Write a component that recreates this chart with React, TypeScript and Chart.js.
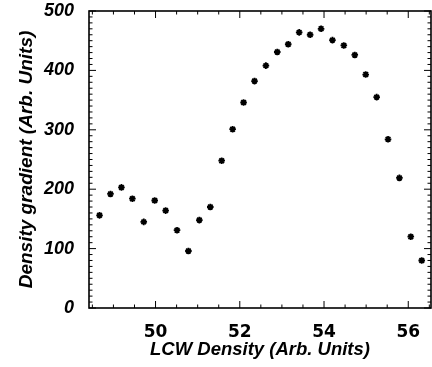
import React, { useEffect, useRef } from "react";
import { Chart, registerables } from "chart.js";

Chart.register(...registerables);

const lcwDensity = [
  48.67, 48.93, 49.19, 49.45, 49.72, 49.98, 50.24, 50.51, 50.78, 51.04,
  51.3, 51.57, 51.83, 52.09, 52.35, 52.62, 52.89, 53.15, 53.41, 53.67,
  53.93, 54.2, 54.47, 54.73, 54.99, 55.25, 55.52, 55.79, 56.06, 56.32,
];
const densityGradient = [
  156, 192, 203, 184, 145, 181, 164, 131, 96, 148,
  170, 248, 301, 346, 382, 408, 431, 444, 464, 460,
  470, 451, 442, 426, 393, 355, 284, 219, 120, 80,
];
const xTickLabels = [50, 52, 54, 56];
const yTickLabels = [0, 100, 200, 300, 400, 500];

const framePlugin = {
  id: "frameTicks",
  afterDraw(chart: any) {
    const { ctx, chartArea } = chart;
    const { left, right, top, bottom } = chartArea;
    const xs = chart.scales.x;
    const ys = chart.scales.y;
    ctx.save();
    ctx.strokeStyle = "#000";
    ctx.lineWidth = 1;
    ctx.beginPath();
    for (let v = 48.5; v <= xs.max + 1e-9; v += 0.5) {
      if (v < xs.min) continue;
      const px = xs.getPixelForValue(v);
      const len = Math.abs(v % 2) < 1e-6 ? 7 : 3.5;
      ctx.moveTo(px, bottom);
      ctx.lineTo(px, bottom - len);
      ctx.moveTo(px, top);
      ctx.lineTo(px, top + len);
    }
    for (let v = 0; v <= 500; v += 10) {
      const py = ys.getPixelForValue(v);
      const len = v % 100 === 0 ? 7 : 3.5;
      ctx.moveTo(left, py);
      ctx.lineTo(left + len, py);
      ctx.moveTo(right, py);
      ctx.lineTo(right - len, py);
    }
    ctx.stroke();
    ctx.lineWidth = 1.6;
    ctx.strokeRect(left, top, right - left, bottom - top);
    ctx.restore();
  },
};

export default function App() {
  const ref = useRef<HTMLCanvasElement>(null);
  useEffect(() => {
    document.body.style.margin = "0";
    const chart = new Chart(ref.current as HTMLCanvasElement, {
      type: "scatter",
      data: {
        datasets: [
          {
            data: lcwDensity.map((x, i) => ({ x, y: densityGradient[i] })),
            pointStyle: "star",
            pointRadius: 3.3,
            borderWidth: 1.8,
            borderColor: "#000",
            backgroundColor: "#000",
          },
        ],
      },
      options: {
        animation: false,
        responsive: false,
        layout: { autoPadding: false, padding: { top: 11, right: 1, left: 0, bottom: 0 } },
        plugins: { legend: { display: false }, tooltip: { enabled: false } },
        scales: {
          x: {
            type: "linear",
            min: 48.42,
            max: 56.54,
            grid: { display: false },
            border: { display: false },
            afterBuildTicks: (s: any) => {
              s.ticks = xTickLabels.map((v) => ({ value: v }));
            },
            afterFit: (s: any) => {
              s.height = 59;
              s.paddingLeft = 0;
              s.paddingRight = 0;
            },
            ticks: {
              autoSkip: false,
              maxRotation: 0,
              padding: 6,
              color: "#000",
              font: { family: "'DejaVu Sans'", size: 17, weight: "bold" },
            },
            title: {
              display: true,
              text: "LCW Density (Arb. Units)",
              color: "#000",
              padding: { top: 0, bottom: 6 },
              font: { family: "'Liberation Sans'", size: 18.5, weight: "bold", style: "italic" },
            },
          },
          y: {
            type: "linear",
            min: 0,
            max: 500,
            grid: { display: false },
            border: { display: false },
            afterBuildTicks: (s: any) => {
              s.ticks = yTickLabels.map((v) => ({ value: v }));
            },
            afterFit: (s: any) => {
              s.width = 89;
              s.paddingTop = 0;
              s.paddingBottom = 0;
            },
            ticks: {
              padding: 7,
              color: "#000",
              font: { family: "'Liberation Sans'", size: 18, weight: "bold", style: "italic" },
            },
            title: {
              display: true,
              text: "Density gradient (Arb. Units)",
              color: "#000",
              padding: { top: 15, bottom: 0 },
              font: { family: "'Liberation Sans'", size: 19, weight: "bold", style: "italic" },
            },
          },
        },
      },
      plugins: [framePlugin],
    });
    return () => chart.destroy();
  }, []);
  return (
    <div style={{ position: "absolute", left: 0, top: 0, width: 432, height: 367, background: "#fff" }}>
      <canvas ref={ref} width={432} height={367} />
    </div>
  );
}
